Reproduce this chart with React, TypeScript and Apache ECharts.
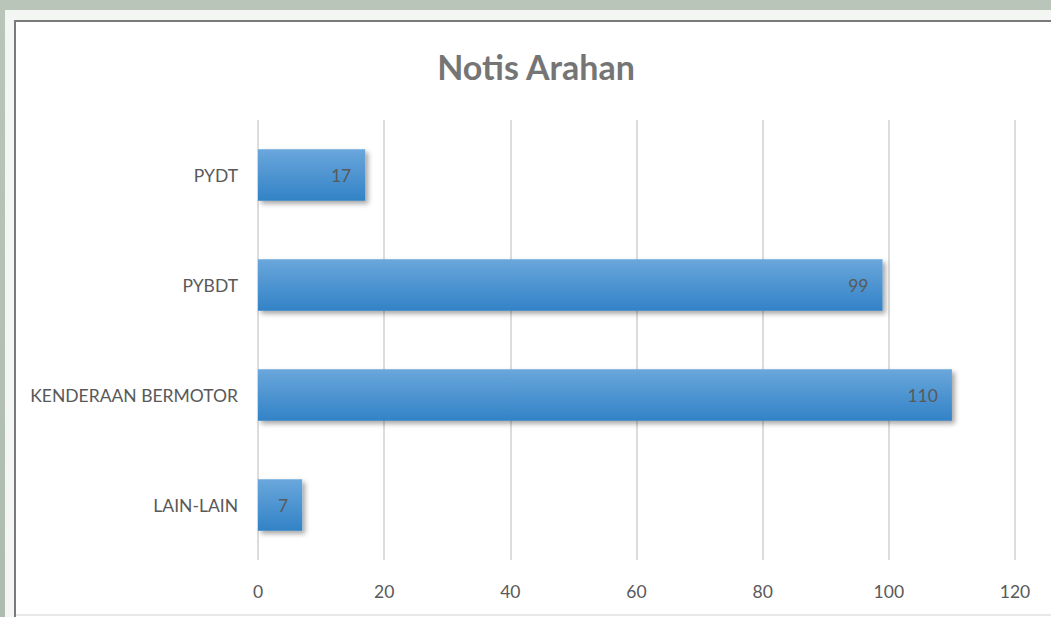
import React, { useEffect, useRef } from "react";
import * as echarts from "echarts";

const categories = ["LAIN-LAIN", "KENDERAAN BERMOTOR", "PYBDT", "PYDT"];
const values = [7, 110, 99, 17];
const xTicks = { min: 0, max: 120, interval: 20 };
const titleText = "Notis Arahan";

const FONT = "Lato, 'Open Sans', sans-serif";

export default function App() {
  const ref = useRef<HTMLDivElement>(null);
  useEffect(() => {
    if (!ref.current) return;
    const chart = echarts.init(ref.current, undefined, { renderer: "svg" });
    chart.setOption({
      animation: false,
      backgroundColor: "#ffffff",
      graphic: [
        {
          type: "rect",
          z: -10,
          shape: { x: 0, y: 0, width: 1051, height: 617 },
          style: {
            fill: new echarts.graphic.LinearGradient(0, 0, 0, 1, [
              { offset: 0, color: "#b9c5b9" },
              { offset: 1, color: "#aebcaf" },
            ]),
          },
          silent: true,
        },
        {
          type: "rect",
          z: -9,
          shape: { x: 5, y: 10, width: 1060, height: 620 },
          style: { fill: "#f4f6f4" },
          silent: true,
        },
        {
          type: "rect",
          z: -8,
          shape: { x: 15, y: 21, width: 1060, height: 620 },
          style: { fill: "#ffffff", stroke: "#7a7a7a", lineWidth: 2 },
          silent: true,
        },
        {
          type: "line",
          z: -7,
          shape: { x1: 16, y1: 615, x2: 1051, y2: 615 },
          style: { stroke: "#e8e8e8", lineWidth: 2 },
          silent: true,
        },
        {
          type: "text",
          z: 10,
          x: 536,
          y: 66,
          style: {
            text: titleText,
            align: "center",
            verticalAlign: "middle",
            font: "bold 34px Lato, 'Open Sans', sans-serif",
            fill: "#757575",
          },
        },
      ],
      grid: { left: 258, right: 36, top: 120, bottom: 57, containLabel: false },
      xAxis: {
        type: "value",
        min: xTicks.min,
        max: xTicks.max,
        interval: xTicks.interval,
        axisLine: { show: false },
        axisTick: { show: false },
        axisLabel: {
          color: "#595959",
          fontSize: 17.5,
          fontFamily: FONT,
          margin: 22,
        },
        splitLine: { show: true, lineStyle: { color: "#dcdcdc", width: 2 } },
      },
      yAxis: {
        type: "category",
        data: categories,
        axisLine: { show: false },
        axisTick: { show: false },
        axisLabel: {
          color: "#595959",
          fontSize: 17.5,
          fontFamily: FONT,
          margin: 20,
        },
      },
      series: [
        {
          type: "bar",
          data: values,
          barWidth: "47%",
          itemStyle: {
            color: new echarts.graphic.LinearGradient(0, 0, 0, 1, [
              { offset: 0, color: "#6aa7dc" },
              { offset: 1, color: "#3282c6" },
            ]),
            shadowColor: "rgba(0,0,0,0.35)",
            shadowBlur: 5,
            shadowOffsetX: 3,
            shadowOffsetY: 3,
          },
          label: {
            show: true,
            position: "insideRight",
            distance: 14,
            color: "#595959",
            fontSize: 17.5,
            fontFamily: FONT,
          },
        },
      ],
    });
    return () => chart.dispose();
  }, []);
  return (
    <div
      ref={ref}
      style={{ position: "absolute", left: 0, top: 0, width: 1051, height: 617 }}
    />
  );
}
